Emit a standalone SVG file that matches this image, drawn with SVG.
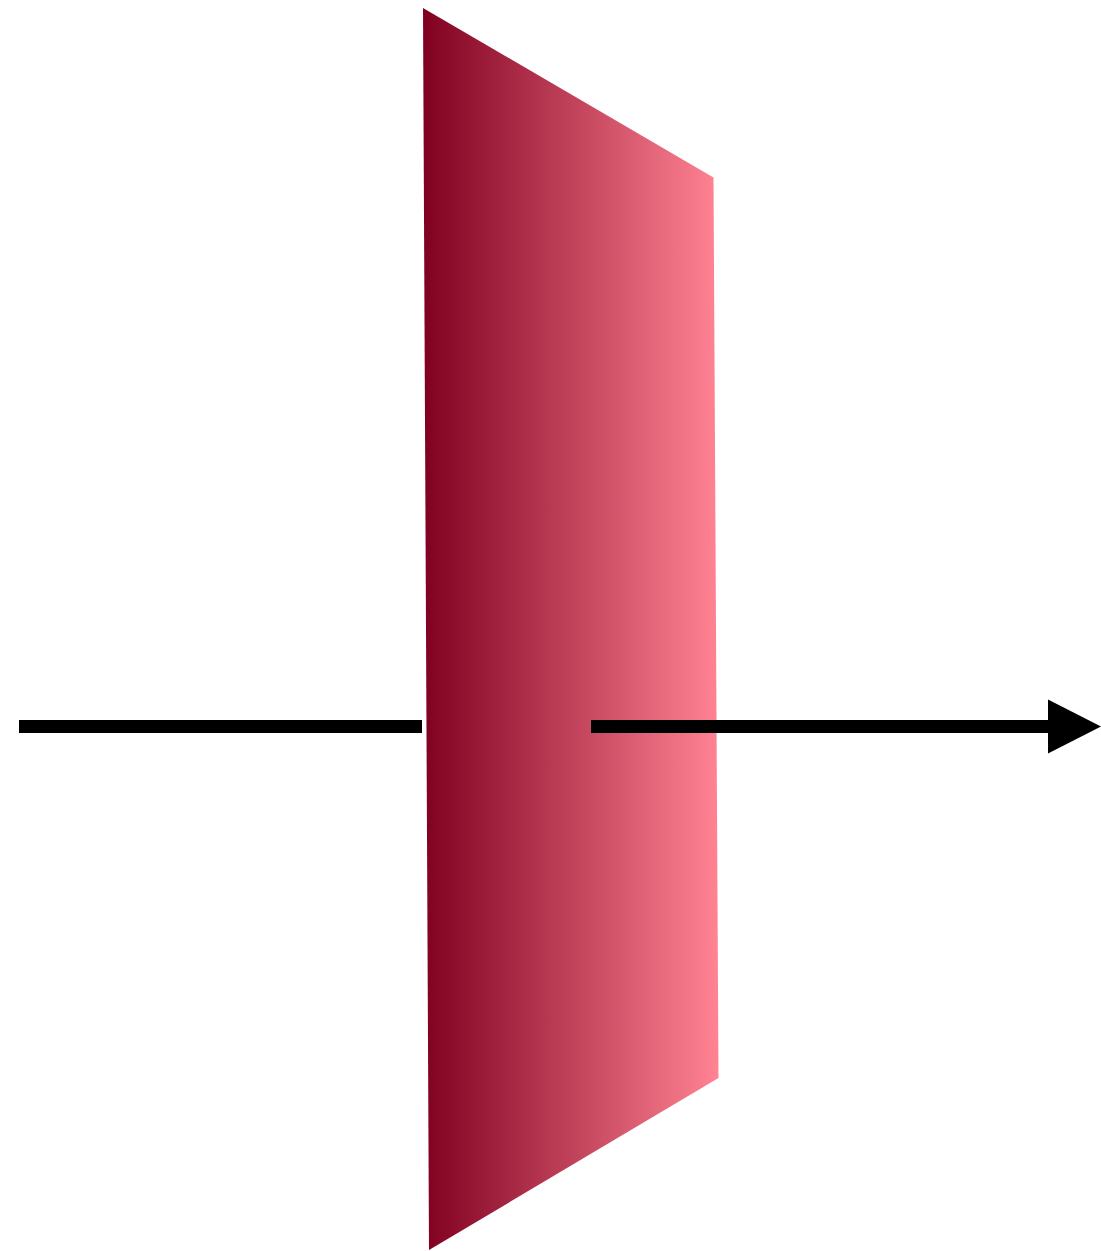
<svg xmlns="http://www.w3.org/2000/svg" width="1101" height="1251" viewBox="0 0 1101 1251">
<defs>
<linearGradient id="g" x1="423" y1="0" x2="718" y2="0" gradientUnits="userSpaceOnUse">
<stop offset="0" stop-color="#800020"/>
<stop offset="1" stop-color="#FF8393"/>
</linearGradient>
<style>.ln{stroke:#000;stroke-width:13;fill:none}</style>
</defs>
<rect width="1101" height="1251" fill="#fff"/>
<g id="plane">
<polygon points="423,8 713.5,177.5 718.5,1078 429,1250" fill="url(#g)"/>
</g>
<g id="connectors">
<line class="ln" x1="19" y1="726.5" x2="422" y2="726.5"/>
<line class="ln" x1="591" y1="726.5" x2="1050" y2="726.5"/>
<polygon points="1048,699.5 1101,726.5 1048,753.5" fill="#000"/>
</g>
</svg>
